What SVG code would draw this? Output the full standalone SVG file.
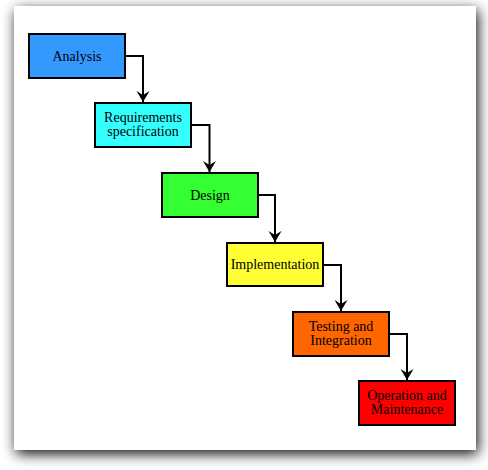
<svg xmlns="http://www.w3.org/2000/svg" width="488" height="470" viewBox="0 0 488 470">
<defs>
<filter id="shadow" x="-10%" y="-10%" width="120%" height="120%">
<feGaussianBlur in="SourceAlpha" stdDeviation="7"/>
<feOffset dx="2" dy="4" result="b"/>
<feComponentTransfer><feFuncA type="linear" slope="0.95"/></feComponentTransfer>
</filter>
<marker id="arrow" markerUnits="userSpaceOnUse" markerWidth="16" markerHeight="16" viewBox="-13 -8 16 16" refX="0" refY="0" orient="auto">
<path d="M0,0 L-11,-6.5 L-7,0 L-11,6.5 Z" fill="#000"/>
</marker>
<style>
.box{stroke:#000;stroke-width:2}
.lbl{font-family:"Liberation Serif","Times New Roman",serif;font-size:14px;fill:#000;text-anchor:middle}
.conn{fill:none;stroke:#000;stroke-width:2}
</style>
</defs>
<rect x="0" y="0" width="488" height="470" fill="#ffffff"/>
<rect x="14" y="6" width="462" height="444" fill="#000" filter="url(#shadow)"/>
<rect x="14" y="6" width="462" height="444" fill="#ffffff"/>
<g id="connectors">
<path class="conn" d="M125,56 H143 V102" marker-end="url(#arrow)"/>
<path class="conn" d="M191,125 H209.5 V172" marker-end="url(#arrow)"/>
<path class="conn" d="M258,195 H275 V242" marker-end="url(#arrow)"/>
<path class="conn" d="M323,265 H341 V311" marker-end="url(#arrow)"/>
<path class="conn" d="M389,334 H407 V380" marker-end="url(#arrow)"/>
</g>
<g id="analysis">
<rect class="box" x="29" y="34" width="96" height="44" fill="#3399FF"/>
<text class="lbl" x="77" y="60.5">Analysis</text>
</g>
<g id="requirements">
<rect class="box" x="95" y="103" width="96" height="44" fill="#33FFFF"/>
<text class="lbl" x="143" y="121.5">Requirements</text>
<text class="lbl" x="143" y="135.5">specification</text>
</g>
<g id="design">
<rect class="box" x="162" y="173" width="96" height="44" fill="#33FF33"/>
<text class="lbl" x="210" y="199.5">Design</text>
</g>
<g id="implementation">
<rect class="box" x="227" y="243" width="96" height="43" fill="#FFFF33"/>
<text class="lbl" x="275" y="269">Implementation</text>
</g>
<g id="testing">
<rect class="box" x="293" y="312" width="96" height="44" fill="#FF6600"/>
<text class="lbl" x="341" y="330.5">Testing and</text>
<text class="lbl" x="341" y="344.5">Integration</text>
</g>
<g id="operation">
<rect class="box" x="359" y="381" width="96" height="44" fill="#FF0000"/>
<text class="lbl" x="407" y="399.5">Operation and</text>
<text class="lbl" x="407" y="413.5">Maintenance</text>
</g>
</svg>
